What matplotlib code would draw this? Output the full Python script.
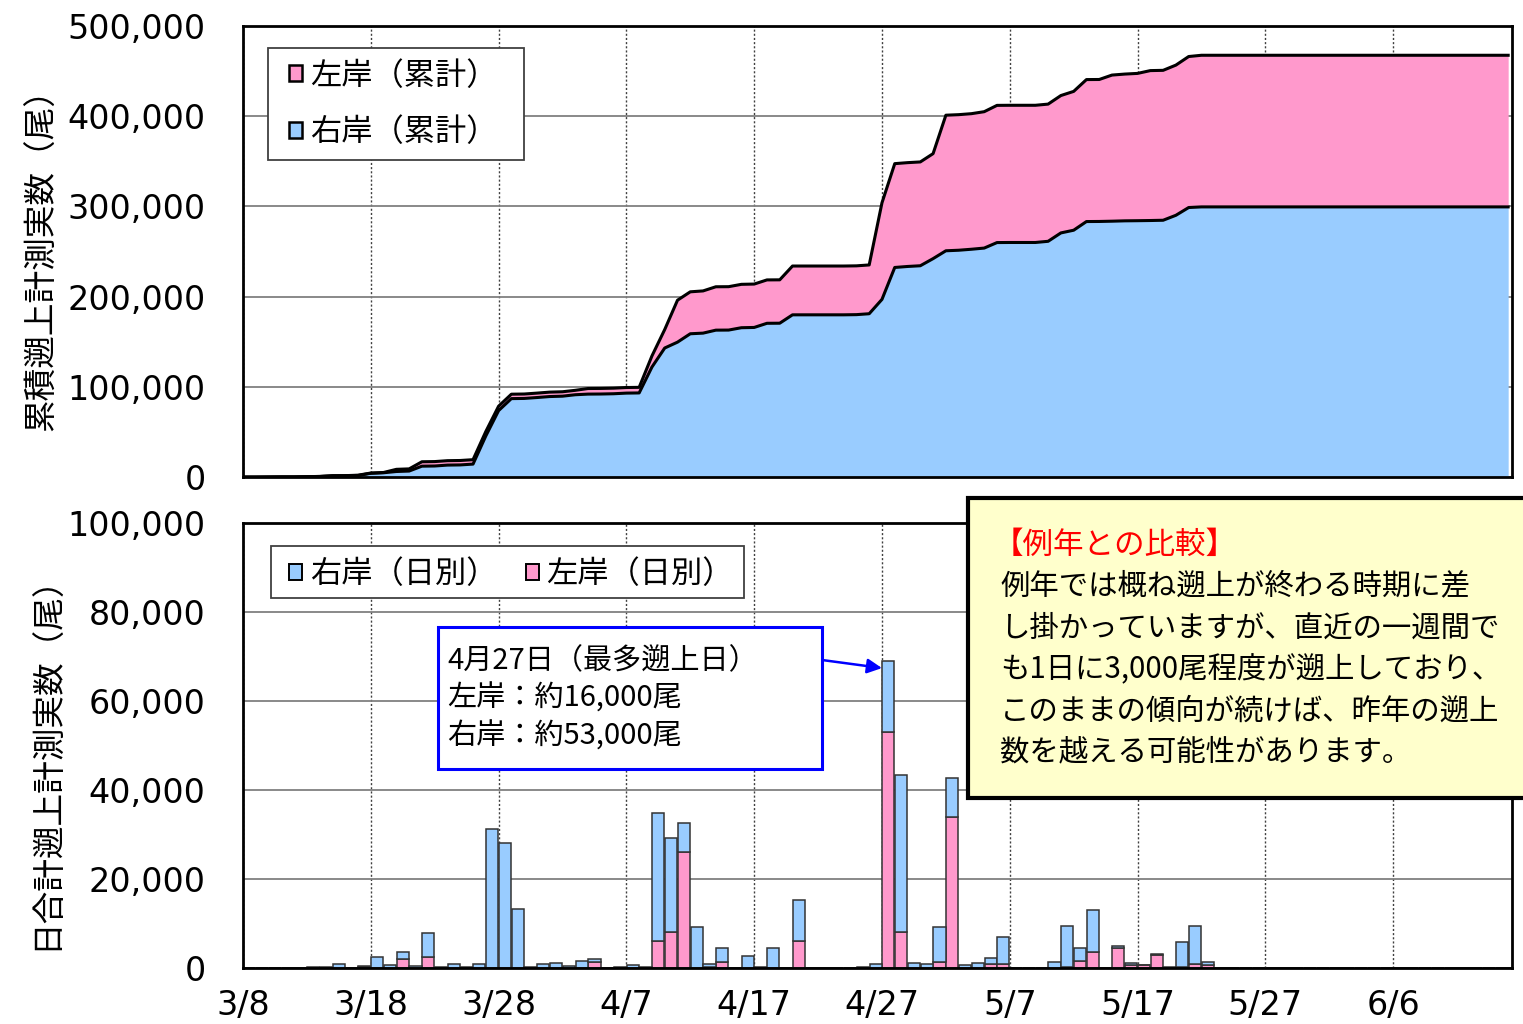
import matplotlib
matplotlib.use("Agg")
import matplotlib.pyplot as plt
import numpy as np
from matplotlib.patches import Patch, Rectangle
from matplotlib.ticker import FuncFormatter, MultipleLocator

plt.rcParams['font.family'] = ['DejaVu Sans', 'Noto Sans CJK JP']
JP = ['Noto Sans CJK JP', 'DejaVu Sans']

# ---- data: daily counts, day 0 = 3/8 ----
right_daily = [0, 0, 100, 100, 0, 200, 200, 800, 100, 200,
               2400, 600, 1400, 500, 5400, 200, 1000, 200, 900, 31200,
               28100, 13300, 200, 1000, 1100, 400, 1600, 700, 100, 300,
               700, 200, 28700, 21100, 6500, 9300, 700, 3300, 100, 2600,
               300, 4600, 100, 9300, 0, 0, 0, 0, 200, 1000,
               15900, 35400, 1100, 800, 7900, 8700, 600, 1100, 1300, 6100,
               100, 0, 0, 1300, 9300, 3000, 9600, 100, 300, 400,
               150, 200, 300, 5500, 8600, 700, 0, 0, 0, 0,
               0, 0, 0, 0, 0, 0, 0, 0, 0, 0,
               0, 0, 0, 0, 0, 0, 0, 0, 0, 0]
left_daily = [0, 0, 0, 0, 0, 0, 0, 0, 0, 300,
              0, 0, 2100, 0, 2500, 0, 0, 0, 0, 0,
              0, 0, 0, 0, 0, 0, 0, 1300, 0, 0,
              0, 0, 6100, 8200, 26000, 0, 300, 1300, 0, 0,
              0, 0, 0, 6000, 0, 0, 0, 0, 0, 0,
              53000, 8000, 0, 0, 1300, 33900, 0, 0, 900, 900,
              0, 0, 0, 0, 200, 1600, 3500, 0, 4600, 700,
              600, 2900, 0, 300, 900, 700, 0, 0, 0, 0,
              0, 0, 0, 0, 0, 0, 0, 0, 0, 0,
              0, 0, 0, 0, 0, 0, 0, 0, 0, 0]
tick_days = [0, 10, 20, 30, 40, 50, 60, 70, 80, 90]
tick_labels = ['3/8', '3/18', '3/28', '4/7', '4/17', '4/27', '5/7', '5/17', '5/27', '6/6']

days = np.arange(len(right_daily))
r = np.array(right_daily, dtype=float)
l = np.array(left_daily, dtype=float)
cum_r = np.cumsum(r)
cum_t = np.cumsum(r + l)

BLUE = '#99CCFF'
PINK = '#FF99CC'
W, H = 1523, 1024

fig = plt.figure(figsize=(W / 100, H / 100), dpi=100)

def fx(x):
    return x / W

def fy(y):
    return 1 - y / H

ax1 = fig.add_axes([fx(243), fy(477), 1269 / W, 451 / H])
ax2 = fig.add_axes([fx(243), fy(968), 1269 / W, 445 / H])

XMAX = 99.3
fmt = FuncFormatter(lambda v, p: f'{int(v):,}')

for ax in (ax1, ax2):
    ax.set_xlim(0, XMAX)
    ax.set_xticks(tick_days)
    ax.set_axisbelow(True)
    ax.yaxis.grid(True, color='#808080', lw=1.3, ls='-')
    ax.xaxis.grid(True, color='#404040', lw=1.0, ls=(0, (1.5, 1.5)))
    for s in ax.spines.values():
        s.set_linewidth(2)
        s.set_color('black')
    ax.tick_params(length=0, labelsize=24, pad=27)
    ax.yaxis.set_major_formatter(fmt)

# ---- top: cumulative stacked area ----
ax1.fill_between(days, 0, cum_r, color=BLUE, lw=0, zorder=2)
ax1.fill_between(days, cum_r, cum_t, color=PINK, lw=0, zorder=2)
ax1.plot(days, cum_r, color='black', lw=2.2, zorder=3)
ax1.plot(days, cum_t, color='black', lw=2.2, zorder=3)
ax1.set_ylim(0, 500000)
ax1.yaxis.set_major_locator(MultipleLocator(100000))
ax1.set_xticklabels([])
ax1.set_ylabel('累積遡上計測実数（尾）', family=JP, fontsize=23.5)
ax1.yaxis.set_label_coords(-0.146, 0.50)

# legend frame drawn as a rectangle inside the axes, entries placed without frame
ax1.add_patch(Rectangle((fx(268), fy(160)), 256 / W, 112 / H, transform=fig.transFigure,
                        facecolor='white', edgecolor='#404040', lw=1.3, zorder=5,
                        clip_on=False))
h1 = [Patch(facecolor=PINK, edgecolor='black', lw=1.8),
      Patch(facecolor=BLUE, edgecolor='black', lw=1.8)]
leg1 = ax1.legend(h1, ['左岸（累計）', '右岸（累計）'], prop={'family': JP, 'size': 22.5},
                  loc='center left', bbox_to_anchor=(fx(289), fy(104)),
                  bbox_transform=fig.transFigure, frameon=False,
                  handlelength=0.42, handleheight=0.42,
                  handletextpad=0.25, labelspacing=0.8, borderpad=0,
                  borderaxespad=0)
leg1.set_zorder(6)

# ---- bottom: daily stacked bars ----
ax2.bar(days + 0.5, l, width=0.95, color=PINK, edgecolor='#333333', lw=1.1, zorder=2)
ax2.bar(days + 0.5, r, bottom=l, width=0.95, color=BLUE, edgecolor='#333333', lw=1.1, zorder=2)
ax2.set_ylim(0, 100000)
ax2.yaxis.set_major_locator(MultipleLocator(20000))
ax2.set_xticklabels(tick_labels)
ax2.tick_params(axis='x', pad=15)
ax2.set_ylabel('日合計遡上計測実数（尾）', family=JP, fontsize=23.5)
ax2.yaxis.set_label_coords(-0.142, 0.48)

ax2.add_patch(Rectangle((fx(271), fy(598)), 473 / W, 52 / H, transform=fig.transFigure,
                        facecolor='white', edgecolor='#404040', lw=1.3, zorder=5,
                        clip_on=False))
h2 = [Patch(facecolor=BLUE, edgecolor='black', lw=1.4),
      Patch(facecolor=PINK, edgecolor='black', lw=1.4)]
leg2 = ax2.legend(h2, ['右岸（日別）', '左岸（日別）'], prop={'family': JP, 'size': 22.5},
                  loc='center left', bbox_to_anchor=(fx(289), fy(574)),
                  bbox_transform=fig.transFigure, frameon=False, ncol=2,
                  handlelength=0.42, handleheight=0.42,
                  handletextpad=0.25, columnspacing=0.9, borderpad=0,
                  borderaxespad=0)
leg2.set_zorder(6)

# ---- annotation box (peak day) ----
fig.patches.append(Rectangle((fx(438), fy(769)), 384 / W, 142 / H, transform=fig.transFigure,
                             facecolor='white', edgecolor='#0000FF', lw=2.2, zorder=10))
ann_lines = ['4月27日（最多遡上日）', '左岸：約16,000尾', '右岸：約53,000尾']
for t, yy in zip(ann_lines, [661, 698, 736]):
    fig.text(fx(447), fy(yy), t, family=JP, fontsize=21, va='center', ha='left', zorder=11)
ax2.annotate('', xy=(50.0, 68900 - 1500), xycoords='data',
             xytext=(fx(822), fy(660)), textcoords='figure fraction',
             arrowprops=dict(arrowstyle='-|>', color='#0000FF', lw=1.8,
                             mutation_scale=22, shrinkA=0, shrinkB=0), zorder=12)

# ---- yellow comment box ----
fig.patches.append(Rectangle((fx(968), fy(798)), 600 / W, 300 / H, transform=fig.transFigure,
                             facecolor='#FFFFCC', edgecolor='black', lw=3, zorder=20))
fig.text(fx(993), fy(545), '【例年との比較】', family=JP, fontsize=22, color='#FF0000',
         va='center', ha='left', zorder=21)
comment = ['例年では概ね遡上が終わる時期に差',
           'し掛かっていますが、直近の一週間で',
           'も1日に3,000尾程度が遡上しており、',
           'このままの傾向が続けば、昨年の遡上',
           '数を越える可能性があります。']
for t, yy in zip(comment, [586, 628, 670, 711, 752]):
    fig.text(fx(1000), fy(yy), t, family=JP, fontsize=21.2, color='black',
             va='center', ha='left', zorder=21)

fig.savefig('out.png', dpi=100)
